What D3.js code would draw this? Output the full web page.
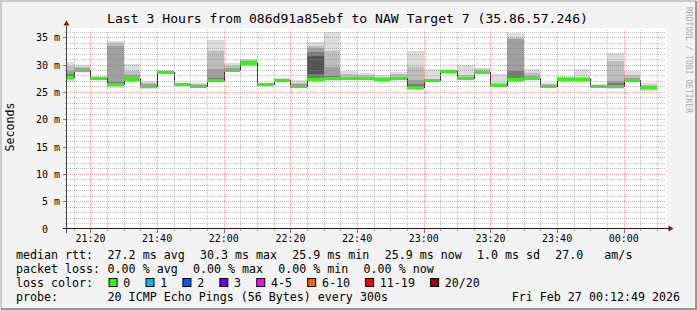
<!DOCTYPE html>
<html lang="en">
<head>
<meta charset="UTF-8">
<title>Smokeping</title>
<script src="https://cdn.jsdelivr.net/npm/d3@7"></script>
<style>
  html, body { margin: 0; padding: 0; background: #f3f3f3; }
  svg { display: block; font-family: "DejaVu Sans Mono", monospace; }
  text { white-space: pre; }
</style>
</head>
<body>
<script>
var width = 697, height = 310;

// start of each 5 minute slot
var slots = ["21:10","21:15","21:20","21:25","21:30","21:35","21:40","21:45","21:50","21:55",
             "22:00","22:05","22:10","22:15","22:20","22:25","22:30","22:35","22:40","22:45",
             "22:50","22:55","23:00","23:05","23:10","23:15","23:20","23:25","23:30","23:35",
             "23:40","23:45","23:50","23:55","00:00","00:05"];

// median rtt per slot (ms)
var median = [27.7, 29.0, 27.5, 26.4, 27.4, 26.1, 28.7, 26.4, 26.0, 27.2,
              29.0, 30.3, 26.4, 27.2, 26.1, 27.4, 27.6, 27.5, 27.6, 27.4,
              27.5, 25.9, 27.2, 28.8, 27.5, 28.7, 26.3, 27.4, 27.6, 26.1,
              27.4, 27.4, 26.1, 26.0, 27.2, 25.9];

// sorted ping rtts per slot (ms), every second ping of 20
var pings = [
  [26.9, 27.2, 27.4, 27.6, 27.7, 27.8, 28.3, 28.8, 29.8, 30.5],
  [28.7, 28.8, 28.9, 28.9, 29.0, 29.0, 29.1, 29.3, 29.6, 29.9],
  [27.1, 27.2, 27.3, 27.4, 27.5, 27.5, 27.6, 27.7, 27.8, 27.9],
  [25.8, 26.0, 26.2, 26.4, 26.5, 26.6, 26.9, 33.4, 33.9, 34.3],
  [26.9, 27.1, 27.2, 27.3, 27.4, 27.4, 27.6, 28.0, 28.8, 30.1],
  [25.6, 25.8, 25.9, 26.0, 26.1, 26.1, 26.2, 26.4, 26.7, 27.0],
  [28.3, 28.5, 28.6, 28.6, 28.7, 28.7, 28.8, 28.8, 28.9, 29.0],
  [26.0, 26.2, 26.3, 26.3, 26.4, 26.4, 26.5, 26.5, 26.6, 26.6],
  [25.7, 25.8, 25.9, 25.9, 26.0, 26.0, 26.1, 26.3, 26.5, 26.7],
  [26.9, 27.0, 27.1, 27.2, 27.2, 27.4, 27.6, 29.1, 32.5, 34.5],
  [28.7, 28.8, 28.9, 28.9, 29.0, 29.0, 29.1, 29.3, 29.8, 30.3],
  [29.9, 30.0, 30.1, 30.2, 30.3, 30.3, 30.4, 30.6, 30.8, 31.1],
  [26.2, 26.3, 26.3, 26.4, 26.4, 26.4, 26.4, 26.5, 26.5, 26.6],
  [27.0, 27.1, 27.1, 27.2, 27.2, 27.2, 27.3, 27.3, 27.4, 27.5],
  [25.8, 25.9, 26.0, 26.0, 26.1, 26.1, 26.2, 26.4, 26.7, 27.1],
  [27.1, 27.2, 27.3, 27.4, 28.2, 31.6, 32.3, 33.0, 33.4, 34.2],
  [27.0, 27.2, 27.4, 27.5, 27.6, 27.7, 27.9, 29.5, 32.5, 36.0],
  [27.1, 27.2, 27.3, 27.4, 27.5, 27.5, 27.6, 27.8, 28.3, 28.9],
  [27.2, 27.3, 27.4, 27.5, 27.6, 27.6, 27.7, 27.8, 28.0, 28.4],
  [27.0, 27.1, 27.2, 27.3, 27.4, 27.4, 27.5, 27.6, 27.8, 28.0],
  [27.2, 27.3, 27.4, 27.4, 27.5, 27.5, 27.6, 27.8, 28.2, 28.7],
  [25.4, 25.6, 25.7, 25.8, 25.9, 26.0, 26.4, 27.2, 29.5, 32.4],
  [26.9, 27.0, 27.1, 27.1, 27.2, 27.2, 27.3, 27.3, 27.4, 29.1],
  [28.2, 28.4, 28.5, 28.6, 28.7, 28.8, 28.8, 28.9, 29.0, 29.1],
  [27.2, 27.3, 27.4, 27.4, 27.5, 27.5, 27.6, 27.7, 28.0, 29.9],
  [28.2, 28.4, 28.5, 28.6, 28.7, 28.7, 28.8, 28.9, 29.1, 29.4],
  [25.9, 26.0, 26.1, 26.2, 26.3, 26.3, 26.4, 26.5, 26.7, 28.2],
  [26.9, 27.1, 27.2, 27.3, 27.4, 27.6, 28.8, 34.6, 34.9, 35.7],
  [27.3, 27.4, 27.5, 27.5, 27.6, 27.6, 27.7, 27.9, 28.4, 29.1],
  [25.7, 25.8, 25.9, 26.0, 26.1, 26.1, 26.2, 26.3, 26.4, 26.6],
  [27.1, 27.2, 27.3, 27.3, 27.4, 27.4, 27.5, 27.6, 27.7, 27.9],
  [27.2, 27.3, 27.3, 27.4, 27.4, 27.4, 27.5, 27.6, 27.8, 29.1],
  [25.8, 25.9, 26.0, 26.0, 26.1, 26.1, 26.2, 26.2, 26.3, 26.4],
  [25.5, 25.7, 25.8, 25.9, 26.0, 26.1, 26.6, 27.0, 30.7, 32.1],
  [26.9, 27.0, 27.1, 27.1, 27.2, 27.2, 27.3, 27.5, 28.0, 28.8],
  [25.2, 25.4, 25.6, 25.8, 25.9, 25.9, 26.0, 26.1, 26.3, 26.7]
];

var yTicks = [0, 5, 10, 15, 20, 25, 30, 35];
var timeLabels = ["21:20","21:40","22:00","22:20","22:40","23:00","23:20","23:40","00:00"];

var title = "Last 3 Hours from 086d91a85ebf to NAW Target 7 (35.86.57.246)";
var rttStats = ["27.2 ms avg", "30.3 ms max", "25.9 ms min", "25.9 ms now", "1.0 ms sd", "27.0   am/s"];
var lossStats = ["0.00 % avg", "0.00 % max", "0.00 % min", "0.00 % now"];
var lossNames = ["0", "1", "2", "3", "4-5", "6-10", "11-19", "20/20"];
var lossColors = ["#26ff00", "#00b8ff", "#0059ff", "#6a00ff", "#ff00ff", "#ff5e00", "#ff0000", "#a10000"];
var probeText = "20 ICMP Echo Pings (56 Bytes) every 300s";
var dateText = "Fri Feb 27 00:12:49 2026";

// smoke shades, outer band first
var shades = ["#dcdcdc", "#bebebe", "#a0a0a0", "#7a7a7a", "#555555"];

function toDate(s) {
  var h = +s.slice(0, 2), m = +s.slice(3, 5);
  return new Date(2026, 1, h < 12 ? 27 : 26, h, m);
}

var tStart = new Date(2026, 1, 26, 21, 12, 49);
var tEnd = new Date(2026, 1, 27, 0, 12, 49);

var pLeft = 66.5, pRight = 666.5, pTop = 28.5, pBottom = 228.5;
var x = d3.scaleTime().domain([tStart, tEnd]).range([pLeft, pRight]);
var y = d3.scaleLinear().domain([0, 36.6]).range([pBottom, pTop]);

var svg = d3.select("body").append("svg").attr("width", width).attr("height", height);

// dotted grid patterns (one pixel on, one off)
var defs = svg.append("defs");
function dotPattern(id, w, h, col) {
  defs.append("pattern").attr("id", id).attr("patternUnits", "userSpaceOnUse")
    .attr("width", w).attr("height", h)
    .append("rect").attr("width", 1).attr("height", 1).attr("fill", col);
}
var minorCol = "rgba(140,140,140,0.55)", majorCol = "rgba(240,50,50,0.45)";
dotPattern("hMinor", 2, 1, minorCol);
dotPattern("hMajor", 2, 1, majorCol);
dotPattern("vMinor", 1, 2, minorCol);
dotPattern("vMajor", 1, 2, majorCol);

// background + frame
svg.append("rect").attr("width", width).attr("height", height).attr("fill", "#f3f3f3");
svg.append("path").attr("d", "M1,309V1H696").attr("fill", "none").attr("stroke", "#cbcbcb").attr("stroke-width", 2);
svg.append("path").attr("d", "M1,309H696V1").attr("fill", "none").attr("stroke", "#999").attr("stroke-width", 2);

// canvas
svg.append("rect").attr("x", pLeft).attr("y", pTop).attr("width", pRight - pLeft).attr("height", pBottom - pTop).attr("fill", "#fff");

var bars = slots.map(function(s, i) {
  var t0 = toDate(s);
  var t1 = d3.timeMinute.offset(t0, 5);
  return {
    x0: Math.round(Math.max(x(t0), pLeft)),
    x1: Math.round(x(t1)),
    med: median[i],
    p: pings[i]
  };
});

// smoke
var smoke = svg.append("g").attr("shape-rendering", "crispEdges");
bars.forEach(function(b) {
  shades.forEach(function(c, j) {
    var hi = b.p[b.p.length - 1 - j], lo = b.p[j];
    smoke.append("rect")
      .attr("x", b.x0).attr("width", b.x1 - b.x0)
      .attr("y", Math.round(y(hi))).attr("height", Math.max(1, Math.round(y(lo)) - Math.round(y(hi))))
      .attr("fill", c);
  });
});

// median step line
var stepPts = bars.map(function(b) { return [b.x0, Math.round(y(b.med)) + 0.5]; });
stepPts.push([bars[bars.length - 1].x1, Math.round(y(median[median.length - 1])) + 0.5]);
svg.append("path")
  .attr("d", d3.line().curve(d3.curveStepAfter)(stepPts))
  .attr("fill", "none").attr("stroke", "#202020").attr("stroke-width", 1)
  .attr("shape-rendering", "crispEdges");

// loss coloured median band
svg.append("g").attr("shape-rendering", "crispEdges")
  .selectAll("rect").data(bars).enter().append("rect")
  .attr("x", function(d) { return d.x0; })
  .attr("width", function(d) { return d.x1 - d.x0; })
  .attr("y", function(d) { return Math.round(y(d.med)) - 1; })
  .attr("height", 3)
  .attr("fill", lossColors[0]);

// grid
var grid = svg.append("g").attr("shape-rendering", "crispEdges");
var gx0 = Math.ceil(pLeft), gx1 = Math.floor(pRight), gy0 = Math.ceil(pTop), gy1 = Math.floor(pBottom);
d3.range(1, 37).forEach(function(v) {
  if (y(v) < pTop) return;
  var yy = Math.round(y(v)), major = v % 5 === 0;
  grid.append("rect").attr("x", gx0).attr("y", yy).attr("width", gx1 - gx0).attr("height", 1)
    .attr("fill", major ? "url(#hMajor)" : "url(#hMinor)");
  grid.append("rect").attr("x", major ? gx0 - 4 : gx0 - 2).attr("y", yy).attr("width", major ? 4 : 2).attr("height", 1)
    .attr("fill", major ? "#c06060" : "#a0a0a0");
});
d3.timeMinute.every(5).range(tStart, tEnd).forEach(function(t) {
  var xx = Math.round(x(t)), major = t.getMinutes() % 20 === 0;
  grid.append("rect").attr("x", xx).attr("y", gy0).attr("width", 1).attr("height", gy1 - gy0)
    .attr("fill", major ? "url(#vMajor)" : "url(#vMinor)");
  grid.append("rect").attr("x", xx).attr("y", gy1 + 1).attr("width", 1).attr("height", major ? 4 : 2)
    .attr("fill", major ? "#c06060" : "#a0a0a0");
});

// axes
var axisCol = "#1e1e1e", arrowCol = "#8b1010";
svg.append("line").attr("x1", pLeft - 4).attr("x2", pRight + 3).attr("y1", pBottom).attr("y2", pBottom)
  .attr("stroke", axisCol).attr("shape-rendering", "crispEdges");
svg.append("line").attr("x1", pLeft).attr("x2", pLeft).attr("y1", pBottom + 4).attr("y2", pTop - 3)
  .attr("stroke", "#444").attr("shape-rendering", "crispEdges");
svg.append("path").attr("d", "M" + (pRight + 2) + "," + (pBottom - 3) + "L" + (pRight + 7) + "," + pBottom + "L" + (pRight + 2) + "," + (pBottom + 3) + "Z")
  .attr("fill", arrowCol);
svg.append("path").attr("d", "M" + (pLeft - 3) + "," + (pTop - 3) + "L" + pLeft + "," + (pTop - 8) + "L" + (pLeft + 3) + "," + (pTop - 3) + "Z")
  .attr("fill", arrowCol);

// tick labels
svg.append("g").selectAll("text").data(yTicks).enter().append("text")
  .attr("x", 36).attr("y", function(d) { return Math.round(y(d)) + 0.5; })
  .attr("dy", "0.36em").attr("font-size", 10).attr("fill", "#000")
  .text(function(d) { return (d < 10 ? " " : "") + d + (d ? " m" : ""); });

svg.append("g").selectAll("text").data(timeLabels).enter().append("text")
  .attr("x", function(d) { return x(toDate(d)); })
  .attr("y", 241.5).attr("text-anchor", "middle").attr("font-size", 10).attr("fill", "#000")
  .text(function(d) { return d; });

// title, unit, watermark
svg.append("text").attr("x", 347.5).attr("y", 23).attr("text-anchor", "middle")
  .attr("font-size", 13.1).attr("fill", "#000").text(title);
svg.append("text").attr("transform", "translate(14,127) rotate(-90)").attr("text-anchor", "middle")
  .attr("font-size", 11.6).attr("fill", "#000").text("Seconds");
svg.append("text").attr("transform", "translate(686,60) rotate(90)").attr("text-anchor", "middle")
  .attr("font-size", 8).attr("fill", "#ababab").text("RRDTOOL / TOBI OETIKER");

// legend
var lf = 11.65, adv = lf * 0.602, gap = 15.2, col2 = 107.6;
var legend = svg.append("g").attr("font-size", lf).attr("fill", "#000");
function row(label, items, yy) {
  legend.append("text").attr("x", 16).attr("y", yy).text(label);
  var xx = col2;
  items.forEach(function(s) {
    legend.append("text").attr("x", xx).attr("y", yy).text(s);
    xx += s.length * adv + gap;
  });
}
row("median rtt:", rttStats, 258.5);
row("packet loss:", lossStats, 272.5);

legend.append("text").attr("x", 16).attr("y", 286.5).text("loss color:");
var lx = col2 + 1;
lossNames.forEach(function(n, i) {
  legend.append("rect").attr("x", lx + 0.5).attr("y", 278.5).attr("width", 8).attr("height", 8)
    .attr("fill", lossColors[i]).attr("stroke", "#000").attr("stroke-width", 1);
  legend.append("text").attr("x", lx + 14.7).attr("y", 286.5).text(n);
  lx += 14.7 + n.length * adv + gap;
});

legend.append("text").attr("x", 16).attr("y", 300.5).text("probe:");
legend.append("text").attr("x", col2).attr("y", 300.5).text(probeText);
legend.append("text").attr("x", 680).attr("y", 300.5).attr("text-anchor", "end").text(dateText);
</script>
</body>
</html>
